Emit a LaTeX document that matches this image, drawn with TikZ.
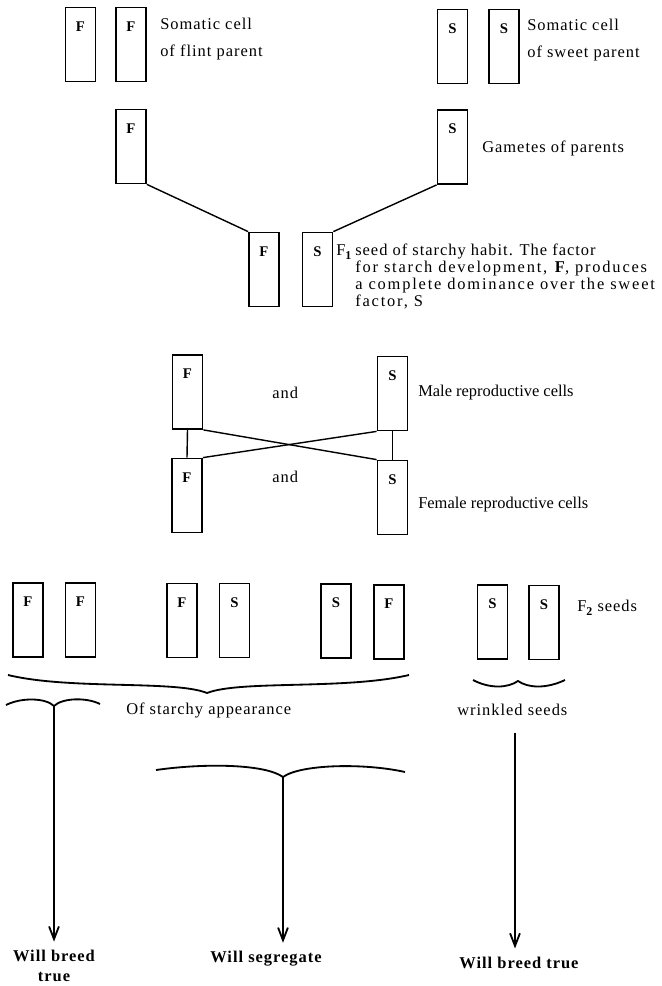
\documentclass[tikz,border=0pt]{standalone}
\usepackage{fontspec}
\setmainfont[LetterSpace=6]{Liberation Serif}
\newfontfamily\widefont[LetterSpace=11]{Liberation Serif}
\newfontfamily\plainfont{Liberation Serif}
\usetikzlibrary{arrows.meta}
\newcommand{\lowidx}[1]{\raisebox{-3pt}{\bfseries\fontsize{8.5}{8.5}\selectfont #1}}

\begin{document}
\begin{tikzpicture}[x=0.025cm,y=-0.025cm]
\tikzset{
  cell/.style={draw,line width=1.3pt,minimum width=21.3pt,inner xsep=0pt,inner ysep=10pt,text height=7pt,text depth=25.6pt,font=\bfseries\fontsize{10.5}{12}\selectfont},
  note/.style={anchor=west,inner sep=0pt,align=left,font=\fontsize{11.7}{19.2}\selectfont},
  will/.style={inner sep=0pt,align=center,font=\bfseries\fontsize{11.7}{14}\selectfont},
  link/.style={line width=1pt},
  brace/.style={line width=1.3pt},
  result/.style={-{Straight Barb[length=9pt,width=7pt]},line width=1.3pt,shorten >=6pt}
}
\useasboundingbox (0,0) rectangle (662,986);
\node[cell] (n_pF1) at (80.5,44.5) {F};
\node[cell] (n_pF2) at (131,44.5) {F};
\node[cell] (n_pS1) at (452.5,46.5) {S};
\node[cell] (n_pS2) at (504,46.5) {S};
\node[note] (n_flint) at (160,39.5) {Somatic cell\\of flint parent};
\node[note] (n_sweet) at (527,40.5) {Somatic cell\\of sweet parent};
\node[cell] (n_gF) at (131,146.5) {F};
\node[cell] (n_gS) at (452.5,147) {S};
\node[note] (n_gam) at (482,148) {Gametes of parents};
\node[cell] (n_hF) at (264,269.5) {F};
\node[cell] (n_hS) at (317.5,269.5) {S};
\node[note] (n_f1) at (336,252) {F\lowidx{1}};
\node[note,font=\fontsize{11.7}{12.1}\selectfont] (n_f1txt) at (355,276.6) {seed of starchy habit. The factor\\{\widefont for starch development, \textbf{F}, produces}\\{\widefont a complete dominance over the sweet}\\{\widefont factor, S}};
\draw[link] (n_gF.south east) -- (n_hF.north west);
\draw[link] (n_hS.north east) -- (n_gS.south west);
\node[cell] (n_mF) at (187.5,392) {F};
\node[cell] (n_mS) at (392.5,393.5) {S};
\node[cell] (n_fF) at (187,495.5) {F};
\node[cell] (n_fS) at (392.5,497.5) {S};
\node[note] (n_andM) at (272,393) {and};
\node[note] (n_andF) at (272,477) {and};
\node[note,font=\plainfont\fontsize{11.7}{14}\selectfont] (n_male) at (418,393) {Male reproductive cells};
\node[note,font=\plainfont\fontsize{11.7}{14}\selectfont] (n_female) at (418,505) {Female reproductive cells};
\draw[link] (n_mF.south) -- (n_fF.north);
\draw[link] (n_mS.south) -- (n_fS.north);
\draw[link] (n_mF.south east) -- (n_fS.north west);
\draw[link] (n_mS.south west) -- (n_fF.north east);
\node[cell] (n_s1) at (28,620) {F};
\node[cell] (n_s2) at (80.5,620) {F};
\node[cell] (n_s3) at (182,620.5) {F};
\node[cell] (n_s4) at (234.5,620.5) {S};
\node[cell] (n_s5) at (336,621) {S};
\node[cell] (n_s6) at (389,622) {F};
\node[cell] (n_s7) at (492.5,622) {S};
\node[cell] (n_s8) at (544,622.5) {S};
\node[note] (n_f2) at (577,608) {F\lowidx{2} seeds};
\coordinate (c_tipA) at (207,693);
\draw[brace] (8,675) .. controls (70,690) and (175,680) .. (c_tipA) .. controls (240,680) and (345,690) .. (409,675);
\draw[brace] (473,680) .. controls (490,689) and (508,688) .. (518,681) .. controls (528,688) and (546,689) .. (565,680);
\node[note] (n_starchy) at (126,710) {Of starchy appearance};
\node[note] (n_wrinkled) at (457,710) {wrinkled seeds};
\coordinate (c_tipB) at (54,706);
\draw[brace] (6,705) .. controls (22,697) and (46,698) .. (c_tipB) .. controls (62,698) and (86,697) .. (100,704);
\coordinate (c_tipC) at (283,777);
\draw[brace] (156,770) .. controls (205,763) and (265,764) .. (c_tipC) .. controls (301,764) and (365,763) .. (405,772);
\coordinate (c_tipD) at (515,733);
\node[will] (n_trueA) at (54,966) {Will breed\\true};
\node[will] (n_segr) at (266,959) {Will segregate};
\node[will] (n_trueB) at (519,963) {Will breed true};
\draw[result] (c_tipB) -- (c_tipB |- n_trueA.north);
\draw[result] (c_tipC) -- (c_tipC |- n_segr.north);
\draw[result] (c_tipD) -- (c_tipD |- n_trueB.north);
\end{tikzpicture}
\end{document}
